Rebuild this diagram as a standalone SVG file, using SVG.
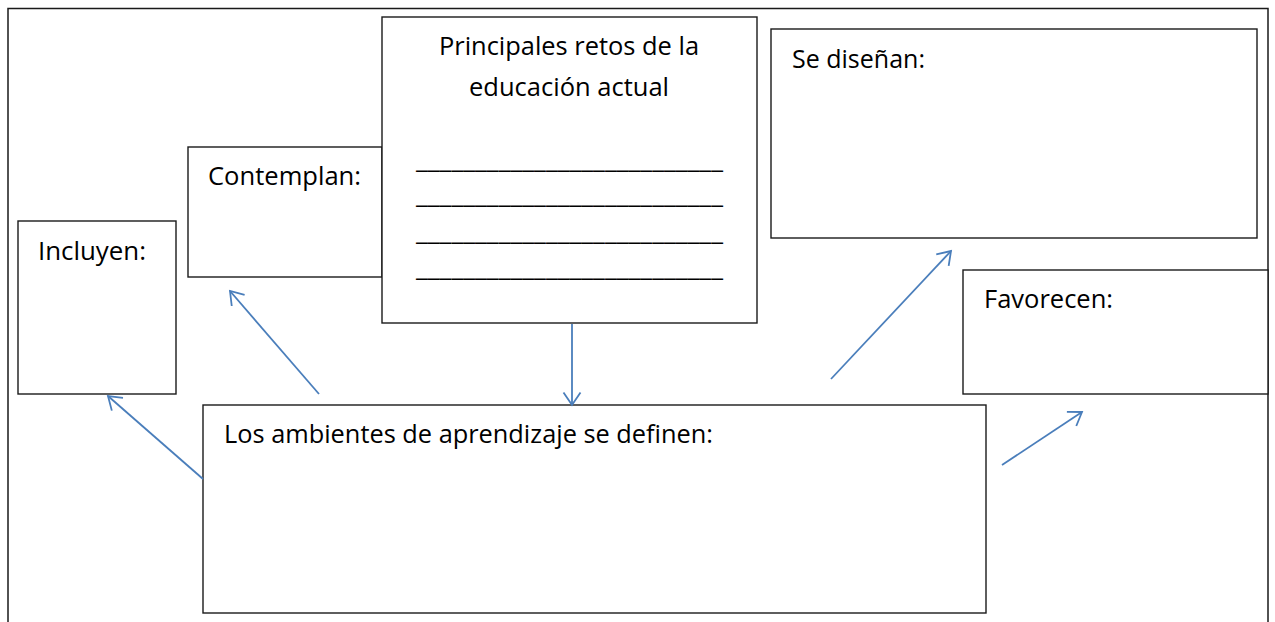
<svg xmlns="http://www.w3.org/2000/svg" width="1275" height="622" viewBox="0 0 1275 622">
<style>
.box{fill:#fff;stroke:#1a1a1a;stroke-width:1.4}
.frame{fill:none;stroke:#1a1a1a;stroke-width:1.5}
.t{font-family:"Open Sans","Liberation Sans",sans-serif;font-size:25.5px;fill:#000}
.u{font-family:"Open Sans","Liberation Sans",sans-serif;font-size:25px;fill:#000}
.c{fill:none;stroke:#4A7EBB;stroke-width:1.8}
</style>
<defs>
<marker id="ah" markerUnits="userSpaceOnUse" orient="auto" overflow="visible" markerWidth="1" markerHeight="1" refX="0" refY="0">
<path d="M-12.5,-8.5 L0,0 L-12.5,8.5" fill="none" stroke="#4A7EBB" stroke-width="1.8"/>
</marker>
</defs>
<rect x="0" y="0" width="1275" height="622" fill="#fff"/>
<path class="frame" d="M8,630 L8,8.5 L1268,8.5 L1268,630"/>
<g id="incluyen">
<rect class="box" x="18" y="221" width="158" height="173"/>
<text class="t" x="38" y="260" textLength="108" lengthAdjust="spacingAndGlyphs">Incluyen:</text>
</g>
<g id="contemplan">
<rect class="box" x="188" y="147" width="194" height="130"/>
<text class="t" x="208" y="185" textLength="153" lengthAdjust="spacingAndGlyphs">Contemplan:</text>
</g>
<g id="retos">
<rect class="box" x="382" y="17" width="375" height="306"/>
<text class="t" x="569" y="55" text-anchor="middle" textLength="260" lengthAdjust="spacingAndGlyphs">Principales retos de la</text>
<text class="t" x="569" y="96" text-anchor="middle" textLength="200" lengthAdjust="spacingAndGlyphs">educación actual</text>
<text class="u" x="416" y="168" textLength="307" lengthAdjust="spacingAndGlyphs">__________________________</text>
<text class="u" x="416" y="203" textLength="307" lengthAdjust="spacingAndGlyphs">__________________________</text>
<text class="u" x="416" y="240" textLength="307" lengthAdjust="spacingAndGlyphs">__________________________</text>
<text class="u" x="416" y="276" textLength="307" lengthAdjust="spacingAndGlyphs">__________________________</text>
</g>
<g id="disenan">
<rect class="box" x="771" y="29" width="486" height="209"/>
<text class="t" x="792" y="68" textLength="133" lengthAdjust="spacingAndGlyphs">Se diseñan:</text>
</g>
<g id="favorecen">
<rect class="box" x="963" y="270" width="305" height="124"/>
<text class="t" x="984" y="308" textLength="129" lengthAdjust="spacingAndGlyphs">Favorecen:</text>
</g>
<g id="ambientes">
<rect class="box" x="203" y="405" width="783" height="208"/>
<text class="t" x="224" y="443" textLength="489" lengthAdjust="spacingAndGlyphs">Los ambientes de aprendizaje se definen:</text>
</g>
<g id="connectors">
<line class="c" x1="203" y1="479" x2="108" y2="396" marker-end="url(#ah)"/>
<line class="c" x1="319" y1="394" x2="230" y2="291" marker-end="url(#ah)"/>
<line class="c" x1="572" y1="324" x2="572" y2="405" marker-end="url(#ah)"/>
<line class="c" x1="831" y1="379" x2="951" y2="251" marker-end="url(#ah)"/>
<line class="c" x1="1002" y1="465" x2="1082" y2="412" marker-end="url(#ah)"/>
</g>
</svg>
